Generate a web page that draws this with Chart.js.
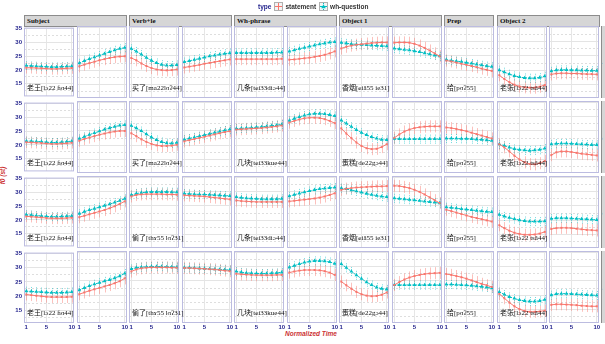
<!DOCTYPE html>
<html>
<head>
<meta charset="utf-8">
<script src="https://cdn.jsdelivr.net/npm/chart.js@4.4.0/dist/chart.umd.min.js"></script>
<style>
  body { margin: 0; width: 605px; height: 344px; overflow: hidden; position: relative; background: #fff; font-family: "Liberation Sans", Arial, sans-serif; }
  canvas { position: absolute; }
  .strip { position: absolute; height: 12px; background: #d6d6d6; border: 1px solid #8c8c8c; box-sizing: border-box; font: bold 7px "Liberation Serif", "DejaVu Serif", serif; line-height: 10px; padding-left: 2px; color: #111; }
  .rstrip { position: absolute; width: 12px; background: #d6d6d6; border-left: 1px solid #8c8c8c; box-sizing: border-box; overflow: hidden; }
  .rstrip span { position: absolute; left: 1px; top: 50%; transform: rotate(90deg); transform-origin: left top; font: 6px "Liberation Sans", sans-serif; color: #333; }
  .word { position: absolute; font: 7px "Liberation Serif", "DejaVu Serif", "Noto Sans CJK SC", serif; line-height: 10px; color: #111; white-space: nowrap; z-index: 2; }
  #legend { position: absolute; left: 258px; top: 2px; display: flex; align-items: center; font: bold 6.5px "Liberation Sans", Arial, sans-serif; color: #333; z-index: 2; }
  #legend svg { margin: 0 2px 0 3px; }
  .axis-title { position: absolute; font: italic bold 6.5px "Liberation Sans", Arial, sans-serif; color: #cc3333; white-space: nowrap; }
</style>
</head>
<body>
<div id="legend">
  <span style="color:#1f1f8a">type</span>
  <svg width="9" height="9"><rect x="0.5" y="0.5" width="8" height="8" fill="#f4f4f4" stroke="#b0b0b0"/><line x1="4.5" y1="1" x2="4.5" y2="8" stroke="#F8766D"/><line x1="1" y1="4.5" x2="8" y2="4.5" stroke="#F8766D"/></svg>
  <span>statement</span>
  <svg width="9" height="9"><rect x="0.5" y="0.5" width="8" height="8" fill="#f4f4f4" stroke="#b0b0b0"/><line x1="4.5" y1="1" x2="4.5" y2="8" stroke="#00BFC4" stroke-dasharray="1,1"/><line x1="1" y1="4.5" x2="8" y2="4.5" stroke="#00BFC4"/><polygon points="4.5,2.2 6.8,6.2 2.2,6.2" fill="#00BFC4"/></svg>
  <span>wh-question</span>
</div>
<div class="axis-title" style="left:-6px; top:172px; transform: rotate(-90deg);">f0 (st)</div>
<div class="axis-title" style="left:285px; top:330px;">Normalized Time</div>
<script>
// ---------- data ----------
const timePoints = [1, 2, 3, 4, 5, 6, 7, 8, 9, 10];
const xTicks = [1, 5, 10];
const yTicks = [15, 20, 25, 30, 35];
const yMinorTicks = [12.5, 17.5, 22.5, 27.5, 32.5];

const facets = ['Subject', 'Verb+le', 'Wh-phrase', 'Object 1', 'Prep', 'Object 2'];
const facetParts = [2, 2, 2, 2, 1, 2];
const sentences = ['1', '2', '3', '4'];

const wordsRow1 = ['老王[lɔ22 ɦɑ44]', '买了[ma22lɑʔ44]', '几条[tɕi33diɔ44]', '香烟[ɕiã55 ie31]', '给[pɑʔ55]', '老张[lɔ22 tsã44]'];
const wordsRow2 = ['老王[lɔ22 ɦɑ44]', '买了[ma22lɑʔ44]', '几块[tɕi33kue44]', '蛋糕[de22gɔ44]', '给[pɑʔ55]', '老张[lɔ22 tsã44]'];
const wordsRow3 = ['老王[lɔ22 ɦɑ44]', '偷了[thɤ55 lɑʔ31]', '几条[tɕi33diɔ44]', '香烟[ɕiã55 ie31]', '给[pɑʔ55]', '老张[lɔ22 tsã44]'];
const wordsRow4 = ['老王[lɔ22 ɦɑ44]', '偷了[thɤ55 lɑʔ31]', '几块[tɕi33kue44]', '蛋糕[de22gɔ44]', '给[pɑʔ55]', '老张[lɔ22 tsã44]'];

// one array of 10 points per sub-panel, 11 sub-panels per row
const statementRow1 = [
  [20.8, 20.8, 20.7, 20.6, 20.5, 20.4, 20.4, 20.5, 20.6, 20.7],
  [21.4, 22.0, 22.5, 23.0, 23.5, 23.9, 24.3, 24.6, 24.8, 24.9],
  [24.3, 23.5, 22.4, 21.5, 20.8, 20.3, 20.1, 20.0, 20.1, 20.3],
  [21.0, 21.3, 21.6, 21.9, 22.3, 22.6, 22.9, 23.2, 23.5, 23.8],
  [23.9, 23.9, 23.9, 23.9, 23.9, 23.9, 23.9, 23.9, 23.9, 24.0],
  [23.7, 23.8, 24.0, 24.2, 24.4, 24.7, 25.0, 25.4, 25.9, 26.6],
  [27.6, 28.2, 28.6, 28.9, 29.1, 29.3, 29.5, 29.6, 29.7, 29.7],
  [29.6, 29.7, 29.7, 29.6, 29.2, 28.6, 27.8, 26.9, 25.9, 24.9],
  [23.4, 23.1, 22.7, 22.3, 21.9, 21.5, 21.1, 20.6, 20.2, 19.8],
  [18.3, 17.0, 15.9, 15.0, 14.4, 14.1, 14.0, 14.0, 14.3, 14.9],
  [18.6, 18.9, 19.0, 19.0, 18.9, 18.9, 18.8, 18.7, 18.7, 18.6]
];
const whRow1 = [
  [21.6, 21.5, 21.4, 21.3, 21.2, 21.1, 21.1, 21.2, 21.3, 21.4],
  [22.5, 23.3, 24.0, 24.6, 25.2, 25.8, 26.4, 27.0, 27.5, 27.9],
  [27.5, 26.6, 25.5, 24.4, 23.4, 22.6, 22.0, 21.7, 21.7, 21.9],
  [22.9, 23.3, 23.7, 24.1, 24.5, 24.9, 25.2, 25.5, 25.8, 26.0],
  [26.1, 26.1, 26.1, 26.1, 26.1, 26.1, 26.1, 26.1, 26.2, 26.2],
  [26.6, 27.0, 27.5, 27.9, 28.3, 28.7, 29.1, 29.4, 29.7, 29.9],
  [29.6, 29.4, 29.2, 29.0, 28.9, 28.8, 28.7, 28.6, 28.5, 28.4],
  [27.6, 27.4, 27.2, 27.0, 26.7, 26.4, 26.0, 25.6, 25.2, 24.9],
  [23.7, 23.4, 23.2, 23.0, 22.7, 22.4, 22.1, 21.8, 21.5, 21.3],
  [20.1, 19.4, 18.7, 18.1, 17.7, 17.4, 17.3, 17.3, 17.5, 18.0],
  [19.7, 20.1, 20.2, 20.2, 20.1, 20.1, 20.0, 20.0, 19.9, 19.9]
];
const statementRow2 = [
  [21.0, 20.9, 20.8, 20.7, 20.5, 20.4, 20.4, 20.5, 20.6, 20.8],
  [21.6, 22.2, 22.7, 23.2, 23.7, 24.1, 24.5, 24.8, 25.0, 25.0],
  [24.2, 23.2, 22.1, 21.2, 20.5, 20.0, 19.8, 19.8, 19.9, 20.2],
  [21.4, 21.8, 22.2, 22.6, 23.0, 23.4, 23.8, 24.2, 24.6, 24.9],
  [25.5, 25.6, 25.7, 25.8, 25.9, 26.0, 26.2, 26.4, 26.6, 26.9],
  [27.9, 28.5, 29.0, 29.4, 29.6, 29.6, 29.5, 29.1, 28.5, 27.7],
  [25.9, 24.1, 22.5, 21.0, 19.8, 19.0, 18.7, 18.8, 19.4, 20.4],
  [22.6, 23.8, 24.8, 25.5, 26.0, 26.3, 26.5, 26.6, 26.6, 26.6],
  [26.2, 26.0, 25.7, 25.3, 24.9, 24.4, 23.9, 23.4, 22.9, 22.4],
  [20.4, 19.3, 17.9, 16.4, 15.1, 14.1, 13.5, 13.4, 13.8, 14.6],
  [16.6, 17.6, 17.9, 17.9, 17.7, 17.4, 17.1, 16.9, 16.7, 16.5]
];
const whRow2 = [
  [21.4, 21.4, 21.3, 21.2, 21.0, 20.9, 20.9, 21.0, 21.2, 21.4],
  [22.3, 23.0, 23.7, 24.3, 24.9, 25.5, 26.0, 26.5, 26.9, 27.1],
  [26.8, 26.0, 25.0, 23.9, 22.8, 21.9, 21.2, 20.8, 20.7, 20.9],
  [22.0, 22.4, 22.8, 23.2, 23.6, 24.0, 24.4, 24.8, 25.2, 25.5],
  [25.8, 25.9, 26.0, 26.1, 26.3, 26.4, 26.6, 26.8, 27.0, 27.3],
  [28.6, 29.3, 29.9, 30.4, 30.8, 31.0, 31.0, 30.9, 30.6, 30.2],
  [28.7, 27.6, 26.5, 25.4, 24.4, 23.6, 22.9, 22.4, 22.0, 21.9],
  [22.3, 22.2, 22.2, 22.2, 22.2, 22.2, 22.2, 22.2, 22.2, 22.2],
  [22.4, 22.4, 22.4, 22.3, 22.3, 22.2, 22.1, 22.0, 21.8, 21.6],
  [20.4, 19.9, 19.3, 18.8, 18.5, 18.3, 18.2, 18.3, 18.5, 18.9],
  [20.4, 20.6, 20.7, 20.7, 20.6, 20.5, 20.4, 20.3, 20.2, 20.2]
];
const statementRow3 = [
  [21.3, 21.2, 21.0, 20.9, 20.7, 20.6, 20.6, 20.6, 20.7, 20.8],
  [21.1, 21.6, 22.1, 22.6, 23.1, 23.6, 24.2, 24.9, 25.7, 26.6],
  [28.3, 28.8, 29.0, 29.1, 29.1, 29.1, 29.1, 29.0, 29.0, 28.9],
  [28.7, 28.6, 28.5, 28.4, 28.3, 28.1, 27.9, 27.7, 27.5, 27.3],
  [26.9, 26.7, 26.6, 26.5, 26.4, 26.4, 26.4, 26.4, 26.4, 26.4],
  [26.6, 26.8, 27.0, 27.2, 27.4, 27.6, 27.9, 28.3, 28.8, 29.4],
  [30.6, 31.0, 31.2, 31.4, 31.5, 31.6, 31.7, 31.8, 31.8, 31.9],
  [32.0, 31.9, 31.6, 31.2, 30.6, 29.9, 29.0, 28.0, 27.0, 26.0],
  [23.7, 23.2, 22.7, 22.2, 21.7, 21.2, 20.8, 20.4, 20.0, 19.6],
  [18.3, 17.3, 16.4, 15.7, 15.3, 15.0, 15.0, 15.1, 15.4, 16.0],
  [17.0, 17.3, 17.4, 17.4, 17.3, 17.1, 16.9, 16.7, 16.6, 16.5]
];
const whRow3 = [
  [21.9, 21.8, 21.6, 21.5, 21.3, 21.2, 21.2, 21.3, 21.4, 21.5],
  [22.3, 23.0, 23.6, 24.1, 24.6, 25.1, 25.6, 26.2, 26.8, 27.5],
  [28.8, 29.3, 29.6, 29.8, 29.9, 29.9, 29.9, 29.9, 29.8, 29.8],
  [29.3, 29.2, 29.1, 29.0, 29.0, 28.9, 28.8, 28.7, 28.6, 28.5],
  [28.1, 27.9, 27.7, 27.6, 27.5, 27.4, 27.4, 27.4, 27.4, 27.5],
  [28.4, 28.9, 29.4, 29.8, 30.2, 30.6, 30.9, 31.1, 31.3, 31.4],
  [31.2, 30.9, 30.5, 30.1, 29.7, 29.3, 28.9, 28.6, 28.3, 28.1],
  [27.7, 27.5, 27.4, 27.2, 27.0, 26.8, 26.6, 26.4, 26.2, 26.0],
  [24.6, 24.4, 24.2, 24.0, 23.8, 23.6, 23.4, 23.2, 23.0, 22.9],
  [22.0, 21.4, 20.9, 20.5, 20.1, 19.8, 19.6, 19.6, 19.6, 19.7],
  [20.6, 20.8, 20.8, 20.8, 20.7, 20.6, 20.5, 20.4, 20.3, 20.2]
];
const statementRow4 = [
  [20.5, 20.3, 20.1, 19.9, 19.7, 19.6, 19.6, 19.6, 19.6, 19.7],
  [20.4, 21.0, 21.6, 22.1, 22.6, 23.1, 23.6, 24.2, 24.9, 25.9],
  [28.3, 29.0, 29.4, 29.6, 29.7, 29.7, 29.7, 29.7, 29.6, 29.6],
  [29.5, 29.5, 29.4, 29.3, 29.2, 29.1, 29.0, 28.8, 28.6, 28.4],
  [27.5, 27.3, 27.2, 27.1, 27.0, 27.0, 27.0, 27.0, 27.1, 27.1],
  [27.9, 28.3, 28.6, 28.8, 28.8, 28.8, 28.7, 28.4, 27.9, 27.1],
  [24.8, 23.5, 22.3, 21.2, 20.4, 19.9, 19.7, 19.8, 20.2, 21.0],
  [23.6, 24.6, 25.5, 26.2, 26.7, 27.1, 27.4, 27.6, 27.7, 27.8],
  [27.4, 27.1, 26.7, 26.3, 25.8, 25.2, 24.6, 24.0, 23.5, 22.9],
  [20.5, 19.0, 17.5, 16.2, 15.2, 14.6, 14.3, 14.3, 14.4, 14.7],
  [16.7, 16.9, 16.9, 16.8, 16.7, 16.6, 16.4, 16.3, 16.2, 16.2]
];
const whRow4 = [
  [21.7, 21.6, 21.5, 21.4, 21.3, 21.2, 21.2, 21.2, 21.3, 21.4],
  [21.8, 22.6, 23.3, 23.9, 24.4, 24.9, 25.4, 26.0, 26.7, 27.6],
  [29.2, 29.6, 29.8, 29.9, 30.0, 30.0, 30.0, 29.9, 29.9, 29.8],
  [29.6, 29.6, 29.5, 29.4, 29.3, 29.2, 29.1, 29.0, 28.9, 28.8],
  [28.3, 28.0, 27.8, 27.7, 27.6, 27.6, 27.6, 27.7, 27.8, 28.0],
  [29.7, 30.3, 30.9, 31.4, 31.8, 32.0, 32.0, 31.9, 31.6, 31.0],
  [30.9, 29.6, 28.3, 27.0, 25.8, 24.6, 23.6, 22.8, 22.3, 22.1],
  [23.6, 23.6, 23.6, 23.6, 23.6, 23.6, 23.6, 23.6, 23.6, 23.6],
  [23.8, 23.8, 23.7, 23.6, 23.5, 23.4, 23.2, 23.0, 22.8, 22.5],
  [21.2, 20.3, 19.5, 18.9, 18.4, 18.1, 17.9, 17.9, 18.1, 18.5],
  [20.1, 20.5, 20.6, 20.6, 20.5, 20.4, 20.3, 20.2, 20.1, 20.0]
];
// half-length of the error bars (st)
const statementErr = 2.1;
const whErr = 1.6;

// ---------- layout ----------
const LEFT = 24, TOP = 26, STEP = 52.5, ROW_STEP = 75, PANEL_W = 50, PANEL_H = 72;
const RED = '#F8766D', CYAN = '#00BFC4', NAVY = '#1f1f8a';

const words = [wordsRow1, wordsRow2, wordsRow3, wordsRow4];
const statementRows = [statementRow1, statementRow2, statementRow3, statementRow4];
const whRows = [whRow1, whRow2, whRow3, whRow4];

// facet strips on top
let first = 0;
const facetFirst = [];
facets.forEach((name, c) => {
  facetFirst.push(first);
  const strip = document.createElement('div');
  strip.className = 'strip';
  strip.textContent = name;
  strip.style.left = Math.round(LEFT + STEP * first) + 'px';
  strip.style.width = Math.round(STEP * facetParts[c] - 2.5) + 'px';
  strip.style.top = (TOP - 11) + 'px';
  document.body.appendChild(strip);
  first += facetParts[c];
});

// error bars drawn behind the lines
const errorBars = {
  id: 'errorBars',
  beforeDatasetsDraw(chart) {
    const { ctx, scales: { x, y } } = chart;
    chart.data.datasets.forEach(ds => {
      ctx.save();
      ctx.strokeStyle = ds.errColor;
      ctx.lineWidth = 1;
      ctx.setLineDash(ds.errDash);
      ds.data.forEach(p => {
        const px = Math.round(x.getPixelForValue(p.x)) + 0.5;
        ctx.beginPath();
        ctx.moveTo(px, y.getPixelForValue(p.y - ds.err));
        ctx.lineTo(px, y.getPixelForValue(p.y + ds.err));
        ctx.stroke();
      });
      ctx.restore();
    });
  }
};

const panelFrame = {
  id: 'panelFrame',
  afterDraw(chart) {
    const { ctx, chartArea: a } = chart;
    ctx.save();
    ctx.strokeStyle = '#bcbce0';
    ctx.lineWidth = 1;
    ctx.strokeRect(a.left + 0.5, a.top + 0.5, a.width - 1, a.height - 1);
    ctx.restore();
  }
};

const yGrid = [...yMinorTicks, ...yTicks].sort((a, b) => a - b);

for (let r = 0; r < 4; r++) {
  for (let j = 0; j < 11; j++) {
    const left = Math.round(LEFT + STEP * j);
    const top = TOP + ROW_STEP * r;
    const padL = j === 0 ? 24 : 4;
    const padB = r === 3 ? 14 : 4;
    const w = PANEL_W + padL + 4, h = PANEL_H + 4 + padB;
    const canvas = document.createElement('canvas');
    canvas.width = w; canvas.height = h;
    canvas.style.left = (left - padL) + 'px';
    canvas.style.top = (top - 4) + 'px';
    canvas.style.width = w + 'px';
    canvas.style.height = h + 'px';
    document.body.appendChild(canvas);

    const showX = r === 3, showY = j === 0;
    new Chart(canvas, {
      type: 'line',
      data: {
        datasets: [
          {
            label: 'statement',
            data: statementRows[r][j].map((v, i) => ({ x: timePoints[i], y: v })),
            borderColor: RED, backgroundColor: RED, borderWidth: 1,
            pointStyle: 'rect', pointRadius: 1.4, pointBorderWidth: 0,
            err: statementErr, errColor: 'rgba(248,118,109,0.45)', errDash: []
          },
          {
            label: 'wh-question',
            data: whRows[r][j].map((v, i) => ({ x: timePoints[i], y: v })),
            borderColor: CYAN, backgroundColor: CYAN, borderWidth: 1, borderDash: [2, 1],
            pointStyle: 'triangle', pointRadius: 2.2, pointBorderWidth: 0,
            err: whErr, errColor: 'rgba(0,191,196,0.55)', errDash: [1, 1]
          }
        ]
      },
      options: {
        responsive: false,
        animation: false,
        devicePixelRatio: 1,
        events: [],
        layout: { padding: { left: 4, right: 4, top: 4, bottom: 4 } },
        plugins: { legend: { display: false }, tooltip: { enabled: false } },
        scales: {
          x: {
            type: 'linear', min: 0.55, max: 10.45,
            afterBuildTicks: s => { s.ticks = xTicks.map(v => ({ value: v })); },
            afterFit: s => { s.height = showX ? 10 : 0; },
            grid: { drawTicks: false, color: '#e6e6e6' },
            border: { display: false },
            ticks: { display: showX, autoSkip: false, maxRotation: 0, padding: 1, color: NAVY, font: { size: 6, weight: 'bold', family: 'Liberation Sans' } }
          },
          y: {
            min: 10.4, max: 35.4,
            afterBuildTicks: s => { s.ticks = yGrid.map(v => ({ value: v })); },
            afterFit: s => { s.width = showY ? 20 : 0; },
            grid: {
              drawTicks: false,
              color: ctx => yTicks.includes(ctx.tick && ctx.tick.value) ? '#e4e4e4' : '#dedede'
            },
            border: {
              display: false,
              dash: ctx => (ctx.tick && yTicks.includes(ctx.tick.value)) ? [] : [2, 2]
            },
            ticks: {
              display: showY, autoSkip: false, padding: 2, color: NAVY,
              font: { size: 6, weight: 'bold', family: 'Liberation Sans' },
              callback: v => yTicks.includes(v) ? String(v) : ''
            }
          }
        }
      },
      plugins: [errorBars, panelFrame]
    });
  }

  // word labels in the first sub-panel of each facet
  words[r].forEach((text, c) => {
    const lab = document.createElement('div');
    lab.className = 'word';
    lab.textContent = text;
    lab.style.left = Math.round(LEFT + STEP * facetFirst[c] + 3) + 'px';
    lab.style.top = (TOP + ROW_STEP * r + 57) + 'px';
    document.body.appendChild(lab);
  });

  // row strip on the right
  const rs = document.createElement('div');
  rs.className = 'rstrip';
  rs.style.left = '601px';
  rs.style.top = (TOP + ROW_STEP * r) + 'px';
  rs.style.height = PANEL_H + 'px';
  rs.innerHTML = '<span>' + sentences[r] + '</span>';
  document.body.appendChild(rs);
}
</script>
</body>
</html>
